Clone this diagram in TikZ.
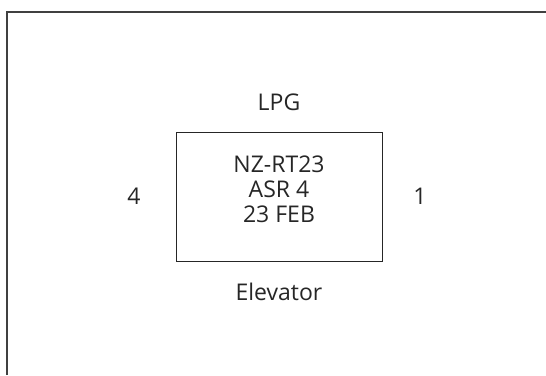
\documentclass[tikz,border=0pt]{standalone}
\usepackage{fontspec}
\setmainfont{Open Sans}
\begin{document}
\begin{tikzpicture}[x=1pt,y=-1pt,
  lbl/.style={anchor=base,inner sep=0pt,font=\fontsize{23}{28}\selectfont,text=black!85},
  frame/.style={draw=black!75,line width=1.8pt},
  box/.style={draw=black!85,line width=1pt}]
\useasboundingbox (0,0) rectangle (546,375);
\coordinate (fa) at (7,375);
\coordinate (fb) at (7,12);
\coordinate (fc) at (547,12);
\draw[frame] (fa) -- (fb) -- (fc);
\node[box,minimum width=206pt,minimum height=129pt,inner sep=0pt] (bx) at (279,196.5) {};
\node[lbl] (lpg) at (279,110) {LPG};
\node[lbl] (l1) at (279,172) {NZ-RT23};
\node[lbl] (l2) at (279,197) {ASR 4};
\node[lbl] (l3) at (279,222) {23 FEB};
\node[lbl] (elev) at (279,300) {Elevator};
\node[lbl] (four) at (134,204) {4};
\node[lbl] (one) at (420,204) {1};
\end{tikzpicture}
\end{document}
